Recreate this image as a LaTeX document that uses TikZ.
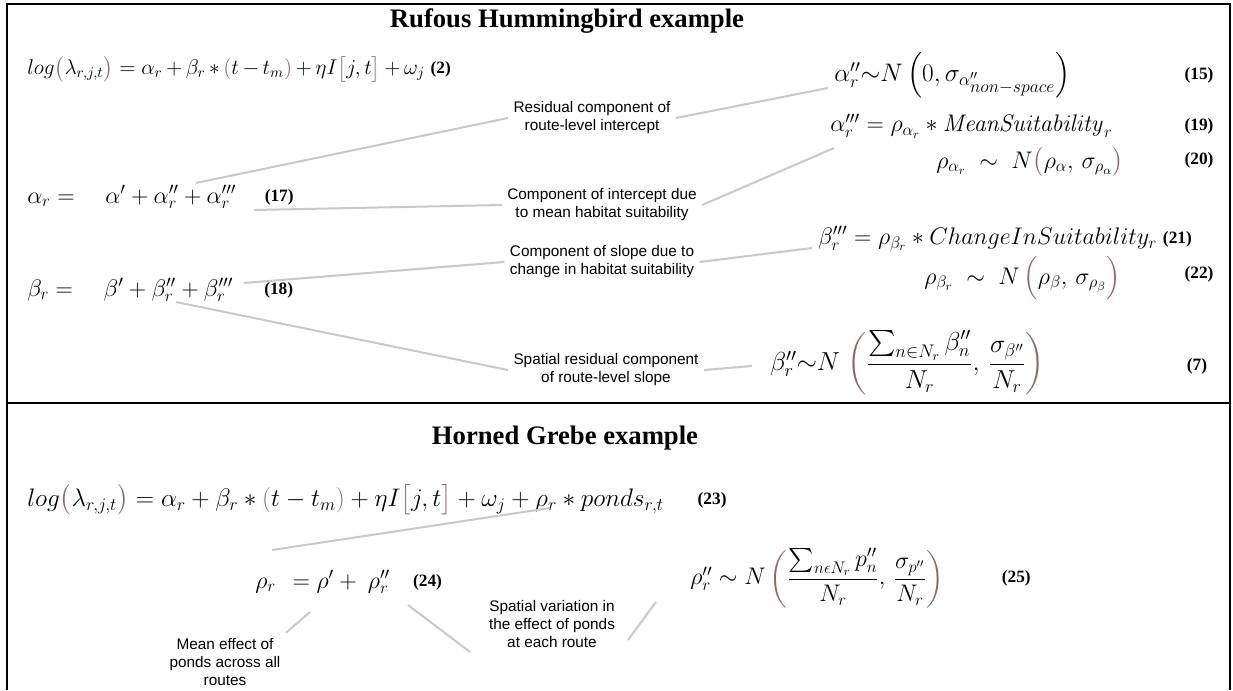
\RequirePackage{fix-cm}
\documentclass[tikz,border=0pt]{standalone}
\usepackage{amsmath}
\usepackage{amssymb}
\usepackage[no-math]{fontspec}
\setmainfont{Liberation Serif}
\newfontfamily\notefam{Liberation Sans}
\usetikzlibrary{positioning}
\definecolor{linkgray}{RGB}{200,200,200}
\definecolor{parbrown}{RGB}{140,105,105}
\newcommand{\bp}[1]{{\color{parbrown}#1}}

\begin{document}
\begin{tikzpicture}[x=0.75pt,y=-0.75pt,
  eqn/.style={inner sep=0pt, font=\fontsize{18}{21}\selectfont},
  num/.style={inner sep=1pt, font=\bfseries\fontsize{13}{15}\selectfont},
  note/.style={align=center, inner sep=4pt, font=\notefam\fontsize{11.5}{13.5}\selectfont},
  head/.style={font=\bfseries\fontsize{20}{23}\selectfont},
  link/.style={draw=linkgray, line width=1.5pt}]
\useasboundingbox (0,0) rectangle (1233,690);
% Frame
\draw[line width=1.5pt] (7,690) -- (7,4) -- (1230,4) -- (1230,690);
\draw[line width=2pt] (7,403) -- (1230,403);
% Rufous Hummingbird
\node[head] (ttl1) at (567,21) {Rufous Hummingbird example};
\node[eqn, anchor=west, font=\fontsize{16}{19}\selectfont] (eq2) at (27,69) {$\medmuskip=3mu log\bp{\bigl(}\lambda_{r,j,t}\bp{\bigr)} = \alpha_r + \beta_r * \bp{(}t - t_m\bp{)} + \eta I\bp{\bigl[}j,t\bp{\bigr]} + \omega_j$};
\node[num, right=3pt of eq2] (n2) {(2)};
\node[eqn, anchor=west, font=\fontsize{19}{22}\selectfont] (eq15) at (834,75) {$\alpha_r''{\sim}N\,\Bigl(0,\sigma_{\alpha''_{\scriptstyle non-space}}\Bigr)$};
\node[num] (n15) at (1199,75) {(15)};
\node[eqn, anchor=west] (eq19) at (830,126) {$\alpha_r''' = \rho_{\alpha_r} * \mathit{MeanSuitability}_r$};
\node[num] (n19) at (1199,126) {(19)};
\node[eqn, anchor=west] (eq20) at (936,162) {$\rho_{\alpha_r} \;\sim\; N\bp{\bigl(}\rho_\alpha,\,\sigma_{\rho_\alpha}\bp{\bigr)}$};
\node[num] (n20) at (1199,160) {(20)};
\node[eqn, anchor=west] (eq17) at (27,197) {$\alpha_r = \quad \alpha' + \alpha_r'' + \alpha_r'''$};
\node[num, right=20pt of eq17] (n17) {(17)};
\node[eqn, anchor=west] (eq21) at (818,239) {$\beta_r''' = \rho_{\beta_r} * ChangeInSuitability_r$};
\node[num, right=3pt of eq21] (n21) {(21)};
\node[eqn, anchor=west] (eq22) at (924,278) {$\rho_{\beta_r} \;\sim\; N\,\bp{\Bigl(}\rho_\beta,\,\sigma_{\rho_\beta}\bp{\Bigr)}$};
\node[num] (n22) at (1199,274) {(22)};
\node[eqn, anchor=west] (eq18) at (27,290) {$\beta_r = \quad \beta' + \beta_r'' + \beta_r'''$};
\node[num, right=22pt of eq18] (n18) {(18)};
\node[eqn, anchor=west, font=\fontsize{19.5}{23}\selectfont] (eq7) at (770,363) {$\beta_r''{\sim}N\;\bp{\biggl(}\dfrac{{\textstyle\sum_{n\in N_r}}\,\beta_n''}{N_r},\,\dfrac{\sigma_{\beta''}}{N_r}\bp{\biggr)}$};
\node[num] (n7) at (1197,366) {(7)};
% notes
\node[note] (res1) at (592,118) {Residual component of\\route-level intercept};
\node[note] (mean1) at (602,205) {Component of intercept due\\to mean habitat suitability};
\node[note] (chg1) at (602,262) {Component of slope due to\\change in habitat suitability};
\node[note] (sp1) at (606,370) {Spatial residual component\\of route-level slope};
\coordinate (a2top) at (196,183);
\coordinate (a15) at (828,88);
\coordinate (a3end) at (254,210);
\coordinate (a19) at (834,148);
\coordinate (b3end) at (244,283);
\coordinate (b21) at (812,248);
\coordinate (b2low) at (176,302);
\coordinate (b7) at (752,366);
\draw[link] (a2top) -- (res1.west);
\draw[link] (res1.east) -- (a15);
\draw[link] (a3end) -- (mean1.west);
\draw[link] (mean1.east) -- (a19);
\draw[link] (b3end) -- (chg1.west);
\draw[link] (chg1.east) -- (b21);
\draw[link] (b2low) -- (sp1.west);
\draw[link] (sp1.east) -- (b7);
% Horned Grebe
\node[head] (ttl2) at (565,438) {Horned Grebe example};
\node[eqn, anchor=west, font=\fontsize{19}{22}\selectfont] (eq23) at (27,500) {$log\bp{\bigl(}\lambda_{r,j,t}\bp{\bigr)} = \alpha_r + \beta_r * \bp{(}t - t_m\bp{)} + \eta I\bp{\bigl[}j,t\bp{\bigr]} + \omega_j + \rho_r * ponds_{r,t}$};
\node[num, right=24pt of eq23] (n23) {(23)};
\node[eqn, anchor=west] (eq24) at (255,582) {$\rho_r\ \, = \rho' +\ \rho_r''$};
\node[num, right=16pt of eq24] (n24) {(24)};
\node[eqn, anchor=west] (eq25) at (690,578) {$\rho_r'' \sim N\,\bp{\biggl(}\dfrac{{\textstyle\sum_{n\epsilon N_r}}\, p_n''}{N_r},\,\dfrac{\sigma_{p''}}{N_r}\bp{\biggr)}$};
\node[num, right=42pt of eq25] (n25) {(25)};
\node[note] (mean2) at (225,662) {Mean effect of\\ponds across all\\routes};
\node[note] (spv) at (552,624) {Spatial variation in\\the effect of ponds\\at each route};
\coordinate (p23) at (550,508);
\coordinate (p24top) at (272,550);
\coordinate (p24a) at (310,612);
\coordinate (p24b) at (408,605);
\coordinate (spvin) at (470,652);
\coordinate (spvout) at (628,640);
\coordinate (p25) at (656,602);
\draw[link] (p23) -- (p24top);
\draw[link] (p24a) -- (mean2.north east);
\draw[link] (p24b) -- (spvin);
\draw[link] (spvout) -- (p25);
\end{tikzpicture}
\end{document}
